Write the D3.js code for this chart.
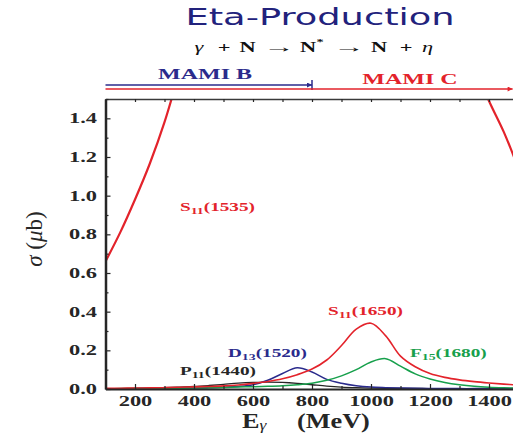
<!DOCTYPE html>
<html>
<head>
<meta charset="utf-8">
<script src="https://cdn.jsdelivr.net/npm/d3@7"></script>
<style>
  body { margin: 0; background: #fff; }
  svg { display: block; }
</style>
</head>
<body>
<svg width="513" height="436"></svg>
<script>
"use strict";

// Data.

var Energy = [100, 150, 200, 250, 300, 350, 400, 450, 500, 550, 600, 650, 700, 750, 800,
              850, 900, 950, 1000, 1050, 1100, 1150, 1200, 1250, 1300, 1350, 1400, 1450, 1500];

// S11(1535) runs off the top of the frame; the hidden middle is left out.
var S11_1535 = [0.66, 0.81, 0.98, 1.165, 1.38, 1.64,
                null, null, null, null, null, null, null, null, null, null,
                null, null, null, null, null, null, null, null, null,
                1.67, 1.49, 1.33, 1.14];
var S11_1650 = [0.003, 0.004, 0.005, 0.006, 0.007, 0.009, 0.011, 0.013, 0.016, 0.021,
                0.029, 0.039, 0.053, 0.074, 0.103, 0.15, 0.225, 0.31, 0.34, 0.275,
                0.17, 0.115, 0.08, 0.06, 0.047, 0.038, 0.031, 0.025, 0.02];
var F15_1680 = [0.001, 0.002, 0.002, 0.003, 0.003, 0.004, 0.005, 0.006, 0.008, 0.010,
                0.012, 0.014, 0.017, 0.022, 0.030, 0.045, 0.068, 0.10, 0.14, 0.157,
                0.118, 0.078, 0.052, 0.034, 0.022, 0.014, 0.009, 0.006, 0.004];
var D13_1520 = [0.001, 0.001, 0.002, 0.002, 0.003, 0.004, 0.005, 0.006, 0.009, 0.013,
                0.022, 0.045, 0.08, 0.11, 0.088, 0.05, 0.03, 0.017, 0.01, 0.007,
                0.005, 0.004, 0.003, 0.003, 0.002, 0.002, 0.002, 0.002, 0.002];
var P11_1440 = [0.001, 0.002, 0.003, 0.005, 0.007, 0.010, 0.013, 0.018, 0.024, 0.030,
                0.034, 0.036, 0.034, 0.029, 0.022, 0.015, 0.010, 0.007, 0.005, 0.004,
                0.003, 0.003, 0.002, 0.002, 0.002, 0.001, 0.001, 0.001, 0.001];

var XTicks = [200, 400, 600, 800, 1000, 1200, 1400];
var XMinorTicks = [100, 300, 500, 700, 900, 1100, 1300, 1500];
var YTicks = [0, 0.2, 0.4, 0.6, 0.8, 1.0, 1.2, 1.4];
var YMinorTicks = [0.1, 0.3, 0.5, 0.7, 0.9, 1.1, 1.3, 1.5];

// Beam ranges (MeV).
var MamiB = [100, 800];
var MamiC = [100, 1480];

// SVG.

var svg = d3.select("svg");

// Constants.

var Stretch = 1.6;   // the original lettering is wide
var SerifFont = "Liberation Serif";

var Red = "#e3232b";
var Blue = "#2b2b8c";
var Green = "#17a04c";
var Black = "#262626";
var Navy = "#22227c";

var x = d3.scaleLinear().domain([100, 1500]).range([105.5, 518.5]);
var y = d3.scaleLinear().domain([0, 1.5]).range([389, 99]);

// Clip for the curves.

svg.append("clipPath").attr("id", "plot")
  .append("rect")
    .attr("x", x(100)).attr("y", y(1.5))
    .attr("width", x(1500) - x(100)).attr("height", y(0) - y(1.5));

// Curves.

var curves = [
  { values: P11_1440, color: Black, width: 1.3 },
  { values: D13_1520, color: Blue,  width: 1.5 },
  { values: F15_1680, color: Green, width: 1.5 },
  { values: S11_1650, color: Red,   width: 1.6 },
  { values: S11_1535, color: Red,   width: 2.2 }
];

var line = d3.line()
  .defined(function(d){ return d[1] != null; })
  .x(function(d){ return x(d[0]); })
  .y(function(d){ return y(d[1]); })
  .curve(d3.curveCatmullRom.alpha(0.5));

svg.append("g").attr("clip-path", "url(#plot)")
  .selectAll("path")
  .data(curves)
  .enter()
  .append("path")
    .attr("d", function(c){ return line(Energy.map(function(e, i){ return [e, c.values[i]]; })); })
    .attr("fill", "none")
    .attr("stroke", function(c){ return c.color; })
    .attr("stroke-width", function(c){ return c.width; });

// Axes.

var StyleTicks = function(g){
  g.attr("font-family", SerifFont).attr("font-size", 14);
  g.selectAll("text")
    .style("font-family", SerifFont)
    .style("font-weight", "bold")
    .style("font-size", "14px")
    .attr("fill", Black)
    .attr("transform", "scale(" + Stretch + ",1)");
  g.selectAll(".tick line").attr("stroke", Black).attr("stroke-width", 1.2);
};

var gx = svg.append("g").attr("transform", "translate(0," + y(0) + ")")
  .call(d3.axisBottom(x).tickValues(XTicks).tickSize(-5).tickSizeOuter(0)
          .tickPadding(7).tickFormat(d3.format("d")));
gx.call(StyleTicks);
gx.select(".domain").attr("stroke", Black).attr("stroke-width", 2);

svg.append("g").attr("transform", "translate(0," + y(0) + ")")
  .call(d3.axisBottom(x).tickValues(XMinorTicks).tickSize(-3).tickFormat(""))
  .call(StyleTicks)
  .select(".domain").remove();

var gt = svg.append("g").attr("transform", "translate(0," + y(1.5) + ")")
  .call(d3.axisTop(x).tickValues(XMinorTicks.concat(XTicks)).tickSize(-3).tickSizeOuter(0).tickFormat(""));
gt.call(StyleTicks);
gt.select(".domain").attr("stroke", "#3a3a3a").attr("stroke-width", 1.5);

svg.append("g").attr("transform", "translate(" + x(100) + ",0)")
  .call(d3.axisLeft(y).tickValues(YMinorTicks).tickSize(-3).tickFormat(""))
  .call(StyleTicks)
  .select(".domain").remove();

var gy = svg.append("g").attr("transform", "translate(" + x(100) + ",0)")
  .call(d3.axisLeft(y).tickValues(YTicks).tickSize(-5).tickSizeOuter(0)
          .tickPadding(5.3).tickFormat(d3.format(".1f")));
gy.call(StyleTicks);
gy.select(".domain").attr("stroke", Black).attr("stroke-width", 2.5);

// Wide text helper: parts are [text, subscript?].

var WideText = function(px, py, parts, size, color, anchor){
  var t = svg.append("text")
    .attr("transform", "translate(" + px + "," + py + ") scale(" + Stretch + ",1)")
    .style("font-family", SerifFont)
    .style("font-weight", "bold")
    .attr("font-size", size)
    .attr("fill", color)
    .attr("text-anchor", anchor || "start");
  var shift = 0;
  parts.forEach(function(p){
    var s = t.append("tspan").text(p[0]);
    var want = p[1] ? 3 : 0;
    if (want != shift) s.attr("dy", want - shift);
    if (p[1]) s.attr("font-size", size * 0.72);
    shift = want;
  });
  return t;
};

// Resonance labels.

WideText(180, 211, [["S"], ["11", true], ["(1535)"]], 12, Red);
WideText(328, 315, [["S"], ["11", true], ["(1650)"]], 12, Red);
WideText(410, 357, [["F"], ["15", true], ["(1680)"]], 12, Green);
WideText(228, 357, [["D"], ["13", true], ["(1520)"]], 12, Blue);
WideText(180, 375, [["P"], ["11", true], ["(1440)"]], 12, Black);

// Beam ranges.

var defs = svg.append("defs");
[["arrowB", Blue], ["arrowC", Red]].forEach(function(a){
  defs.append("marker")
      .attr("id", a[0])
      .attr("viewBox", "0 -4 8 8")
      .attr("refX", 8).attr("refY", 0)
      .attr("markerWidth", 8).attr("markerHeight", 5)
      .attr("markerUnits", "userSpaceOnUse")
      .attr("orient", "auto")
    .append("path")
      .attr("d", "M0,-4L8,0L0,4Z")
      .attr("fill", a[1]);
});

svg.append("line")
  .attr("x1", x(MamiB[0])).attr("x2", x(MamiB[1]))
  .attr("y1", 85).attr("y2", 85)
  .attr("stroke", Blue).attr("stroke-width", 1.5)
  .attr("marker-end", "url(#arrowB)");
svg.append("line")
  .attr("x1", x(MamiB[1])).attr("x2", x(MamiB[1]))
  .attr("y1", 80).attr("y2", 90)
  .attr("stroke", Blue).attr("stroke-width", 1.5);
svg.append("line")
  .attr("x1", x(MamiC[0])).attr("x2", x(MamiC[1]))
  .attr("y1", 89).attr("y2", 89)
  .attr("stroke", Red).attr("stroke-width", 1.3)
  .attr("marker-end", "url(#arrowC)");

WideText(205, 79, [["MAMI B"]], 15, Blue, "middle");
WideText(410, 84, [["MAMI C"]], 15, Red, "middle");

// Titles.

svg.append("text")
  .attr("transform", "translate(320,25) scale(" + Stretch + ",1)")
  .attr("text-anchor", "middle")
  .style("font-family", "DejaVu Sans")
  .attr("font-size", 23)
  .attr("fill", Navy)
  .text("Eta-Production");

// Reaction, token by token.
var reaction = [
  { t: "\u03b3", cx: 199, it: true },
  { t: "+",      cx: 224 },
  { t: "N",      cx: 247.5 },
  { t: "\u2192", cx: 279, arrow: true },
  { t: "N",      cx: 308 },
  { t: "*",      cx: 320, sup: true },
  { t: "\u2192", cx: 349, arrow: true },
  { t: "N",      cx: 379 },
  { t: "+",      cx: 406 },
  { t: "\u03b7", cx: 427.5, it: true }
];
svg.append("g").selectAll("text")
  .data(reaction)
  .enter()
  .append("text")
    .attr("transform", function(d){
      var sx = d.arrow ? 2.1 : Stretch;
      return "translate(" + d.cx + "," + (d.sup ? 45 : 52) + ") scale(" + sx + ",1)";
    })
    .attr("text-anchor", "middle")
    .style("font-family", SerifFont)
    .style("font-weight", function(d){ return d.it ? "normal" : "bold"; })
    .style("font-style", function(d){ return d.it ? "italic" : "normal"; })
    .attr("font-size", function(d){ return d.sup ? 9 : (d.arrow ? 15 : 14); })
    .attr("fill", "#111")
    .text(function(d){ return d.t; });

// Axis titles.

var xt = svg.append("text")
  .attr("transform", "translate(242,428) scale(1.25,1)")
  .style("font-family", SerifFont)
  .style("font-weight", "bold")
  .attr("font-size", 21)
  .attr("fill", Black);
xt.append("tspan").text("E");
xt.append("tspan").attr("dy", 2).attr("font-size", 14)
  .style("font-style", "italic").style("font-weight", "normal").text("\u03b3");
xt.append("tspan").attr("dy", -2).attr("x", 44).text("(MeV)");

var yt = svg.append("text")
  .attr("transform", "translate(42,239) rotate(-90)")
  .attr("text-anchor", "middle")
  .style("font-family", SerifFont)
  .attr("font-size", 23)
  .attr("fill", Black);
yt.append("tspan").style("font-style", "italic").text("\u03c3");
yt.append("tspan").text(" (");
yt.append("tspan").style("font-style", "italic").text("\u03bc");
yt.append("tspan").text("b)");
</script>
</body>
</html>
